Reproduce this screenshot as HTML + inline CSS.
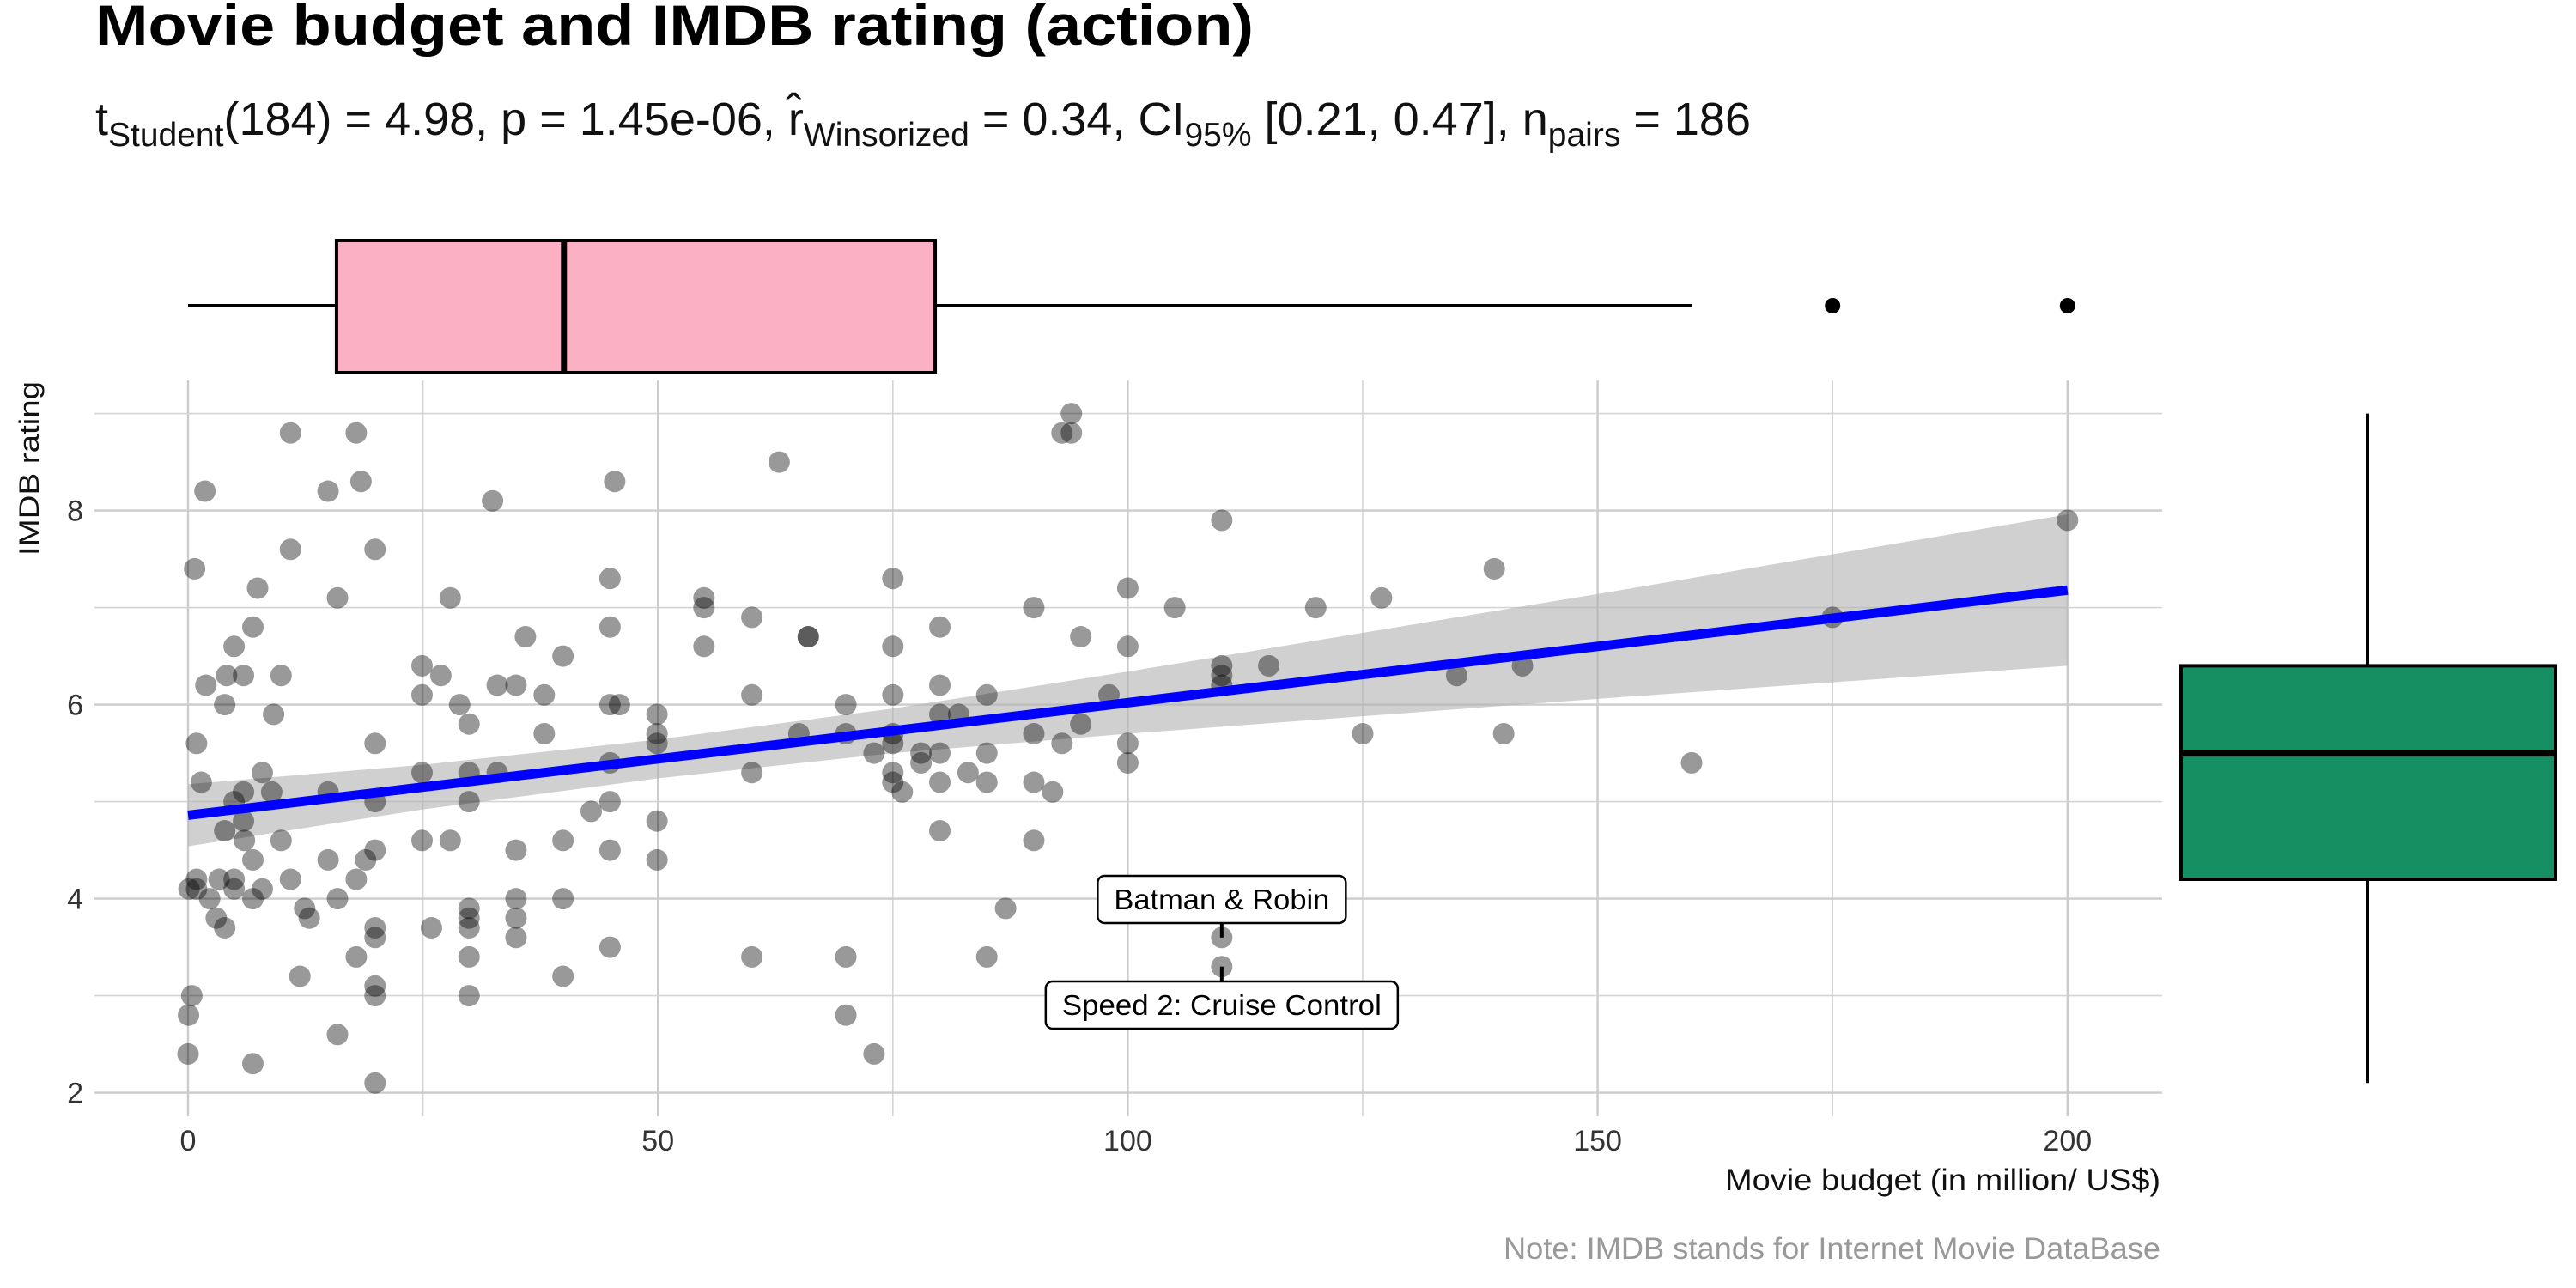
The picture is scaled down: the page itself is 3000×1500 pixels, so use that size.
<!DOCTYPE html>
<html><head><meta charset="utf-8"><style>
html,body{margin:0;padding:0;background:#fff;}
svg{display:block;font-family:"Liberation Sans",sans-serif;}
</style></head><body>
<svg id="chart" width="3000" height="1500" viewBox="0 0 3000 1500" xmlns="http://www.w3.org/2000/svg">
<text x="111" y="52" font-size="66" font-weight="bold" textLength="1349" lengthAdjust="spacingAndGlyphs">Movie budget and IMDB rating (action)</text>
<text x="111" y="157" font-size="54" fill="#111">t<tspan font-size="39" dy="13">Student</tspan><tspan dy="-13">(184) = 4.98, p = 1.45e-06, r̂</tspan><tspan font-size="39" dy="13">Winsorized</tspan><tspan dy="-13"> = 0.34, CI</tspan><tspan font-size="39" dy="13">95%</tspan><tspan dy="-13"> [0.21, 0.47], n</tspan><tspan font-size="39" dy="13">pairs</tspan><tspan dy="-13"> = 186</tspan></text>
<g id="grid"></g>
<g id="ribbon"></g>
<g id="points"></g>
<g id="fit"></g>
<g id="labels"></g>
<g id="axes"></g>
<g id="xbox"></g>
<g id="ybox"></g>
<text transform="translate(45,444) rotate(-90)" text-anchor="end" font-size="32" fill="#111" textLength="203" lengthAdjust="spacingAndGlyphs">IMDB rating</text>
<text x="2516" y="1386" text-anchor="end" font-size="35" fill="#111" textLength="507" lengthAdjust="spacingAndGlyphs">Movie budget (in million/ US$)</text>
<text x="2516" y="1466" text-anchor="end" font-size="35" fill="#999" textLength="765" lengthAdjust="spacingAndGlyphs">Note: IMDB stands for Internet Movie DataBase</text>
</svg>
<script>
const budget = [10.9,17.9,1.8,14.9,18.4,32.4,45.4,62.9,10.9,19.9,0.7,7.4,15.9,27.9,44.9,54.9,54.9,60,66,66,6.9,44.9,4.9,54.9,35.9,39.9,24.9,1.9,4.1,5.9,9.9,26.9,32.9,34.9,24.9,37.9,60,3.9,28.9,44.9,45.9,70,9.1,29.9,49.9,0.9,19.9,37.9,49.9,49.9,65,70,1.4,7.9,24.9,29.9,32.9,60,44.9,5.9,8.9,14.9,4.9,19.9,29.9,44.9,5.9,3.9,42.9,49.9,6,9.9,24.9,27.9,39.9,6.9,14.9,18.9,19.9,34.9,44.9,49.9,0.9,3.3,4.9,10.9,17.9,0.1,0.9,4.9,7.9,2.3,6.9,15.9,34.9,39.9,12.4,29.9,3,12.9,29.9,34.9,3.9,19.9,25.9,29.9,19.9,34.9,17.9,29.9,60,70,44.9,11.9,39.9,0.4,19.9,19.9,29.9,0.05,70,15.9,0,6.9,19.9,
94,93,94,110,75,139,100,90,105,120,127,80,75,95,100,110,110,110,115,135,142,75,80,85,98,80,82,90,95,93,100,100,125,140,160,73,75,75,78,78,80,85,75,75,76,80,83,85,90,92,80,90,87,110,110,85,73,200,175];
const rating = [8.8,8.8,8.2,8.2,8.3,8.1,8.3,8.5,7.6,7.6,7.4,7.2,7.1,7.1,7.3,7.1,7.0,6.9,6.7,6.7,6.8,6.8,6.6,6.6,6.7,6.5,6.4,6.2,6.3,6.3,6.3,6.3,6.2,6.2,6.1,6.1,6.1,6.0,6.0,6.0,6.0,6.0,5.9,5.8,5.9,5.6,5.6,5.7,5.7,5.6,5.7,5.7,5.2,5.3,5.3,5.3,5.3,5.3,5.4,5.1,5.1,5.1,5.0,5.0,5.0,5.0,4.8,4.7,4.9,4.8,4.6,4.6,4.6,4.6,4.6,4.4,4.4,4.4,4.5,4.5,4.5,4.4,4.2,4.2,4.2,4.2,4.2,4.1,4.1,4.1,4.1,4.0,4.0,4.0,4.0,4.0,3.9,3.9,3.8,3.8,3.8,3.8,3.7,3.7,3.7,3.7,3.6,3.6,3.4,3.4,3.4,3.4,3.5,3.2,3.2,3.0,3.1,3.0,3.0,2.8,2.8,2.6,2.4,2.3,2.1,
9.0,8.8,8.8,7.9,7.3,7.4,7.2,7.0,7.0,7.0,7.1,6.8,6.6,6.7,6.6,6.4,6.3,6.2,6.4,6.3,6.4,6.1,6.2,6.1,6.1,5.9,5.9,5.7,5.8,5.6,5.6,5.4,5.7,5.7,5.4,5.5,5.7,5.6,5.5,5.4,5.5,5.5,5.3,5.2,5.1,5.2,5.3,5.2,5.2,5.1,4.7,4.6,3.9,3.6,3.3,3.4,2.4,7.9,6.9];
const fitX = [0,200];
const fitY = [4.86,7.18];
const bandX = [0,25,50,75,100,125,150,175,200];
const bandLo = [4.54,4.92,5.24,5.50,5.70,5.88,6.06,6.23,6.40];
const bandHi = [5.18,5.38,5.64,5.96,6.34,6.74,7.14,7.55,7.96];
const xTicks = [0,50,100,150,200];
const xMinor = [25,75,125,175];
const yTicks = [2,4,6,8];
const yMinor = [3,5,7,9];
const xBoxStats = [0,15.8,40,79.5,160];
const xOutliers = [175,200];
const yBoxStats = [2.1,4.2,5.5,6.4,9.0];
const labelNames = ["Batman & Robin","Speed 2: Cruise Control"];
const labelX = [110,110];
const labelY = [3.6,3.3];

const NS="http://www.w3.org/2000/svg";
const xs = v => 219 + v*10.944;
const ys = v => 594.6 - (v-8)*113;
function mk(tag, attrs, parent){const e=document.createElementNS(NS,tag);for(const k in attrs)e.setAttribute(k,attrs[k]);parent.appendChild(e);return e;}
const grid=document.getElementById('grid');
xMinor.forEach(v=>{const l=mk('line',{x1:xs(v),x2:xs(v),y1:443,y2:1300,stroke:'#d4d4d4','stroke-width':1.6},grid);

});
xTicks.forEach(v=>{const l=mk('line',{x1:xs(v),x2:xs(v),y1:443,y2:1300,stroke:'#cccccc','stroke-width':2.4},grid);

});
yMinor.forEach(v=>{const l=mk('line',{x1:110,x2:2518,y1:ys(v),y2:ys(v),stroke:'#d4d4d4','stroke-width':1.6},grid);

});
yTicks.forEach(v=>{const l=mk('line',{x1:110,x2:2518,y1:ys(v),y2:ys(v),stroke:'#cccccc','stroke-width':2.4},grid);

});
const axes=document.getElementById('axes');
xTicks.forEach(v=>{const t=mk('text',{x:xs(v),y:1340,'text-anchor':'middle','font-size':34,fill:'#333'},axes);t.textContent=v;

});
yTicks.forEach(v=>{const t=mk('text',{x:97,y:ys(v)+12,'text-anchor':'end','font-size':34,fill:'#333'},axes);t.textContent=v;

});
let d='M'+bandX.map((v,i)=>xs(v)+','+ys(bandHi[i])).join(' L');
for(let i=bandX.length-1;i>=0;i--) d+=' L'+xs(bandX[i])+','+ys(bandLo[i]);
const rb=mk('path',{d:d+'Z',fill:'#b0b0b0','fill-opacity':0.6},document.getElementById('ribbon'));


const pg=document.getElementById('points');
budget.forEach((b,i)=>{const c=mk('circle',{cx:xs(b),cy:ys(rating[i]),r:12.5,fill:'#000','fill-opacity':0.4},pg);

});
const fl=mk('line',{x1:xs(fitX[0]),y1:ys(fitY[0]),x2:xs(fitX[1]),y2:ys(fitY[1]),stroke:'#0000ff','stroke-width':11},document.getElementById('fit'));


const lg=document.getElementById('labels');
const boxes=[{y:1020,w:289},{y:1143,w:410}];
labelNames.forEach((n,i)=>{const cx=xs(labelX[i]);const py=ys(labelY[i]);const b=boxes[i];
const by2 = i===0? b.y+55 : b.y;
const sg=mk('line',{x1:cx,x2:cx,y1:by2,y2:py,stroke:'#000','stroke-width':4},lg);


const r=mk('rect',{x:cx-b.w/2,y:b.y,width:b.w,height:55,rx:8,fill:'#fff',stroke:'#000','stroke-width':2.5},lg);


const t=mk('text',{x:cx,y:b.y+39,'text-anchor':'middle','font-size':33,fill:'#000',textLength:b.w-38,lengthAdjust:'spacingAndGlyphs'},lg);t.textContent=n;

});
const xb=document.getElementById('xbox');
const w1=mk('line',{x1:xs(xBoxStats[0]),x2:xs(xBoxStats[1]),y1:356,y2:356,stroke:'#000','stroke-width':4},xb);


const w2=mk('line',{x1:xs(xBoxStats[3]),x2:xs(xBoxStats[4]),y1:356,y2:356,stroke:'#000','stroke-width':4},xb);


const r1=mk('rect',{x:xs(xBoxStats[1]),y:280,width:xs(xBoxStats[3])-xs(xBoxStats[1]),height:154,fill:'#fbb1c3',stroke:'#000','stroke-width':4},xb);


const m1=mk('line',{x1:xs(xBoxStats[2]),x2:xs(xBoxStats[2]),y1:280,y2:434,stroke:'#000','stroke-width':7},xb);


xOutliers.forEach(v=>{const c=mk('circle',{cx:xs(v),cy:356,r:9,fill:'#000'},xb);

});
const yb=document.getElementById('ybox');
const cxb=2757;
const w3=mk('line',{x1:cxb,x2:cxb,y1:ys(yBoxStats[0]),y2:ys(yBoxStats[1]),stroke:'#000','stroke-width':4},yb);


const w4=mk('line',{x1:cxb,x2:cxb,y1:ys(yBoxStats[3]),y2:ys(yBoxStats[4]),stroke:'#000','stroke-width':4},yb);


const r2=mk('rect',{x:2540,y:ys(yBoxStats[3]),width:436,height:ys(yBoxStats[1])-ys(yBoxStats[3]),fill:'#168f63',stroke:'#000','stroke-width':4},yb);


const m2=mk('line',{x1:2540,x2:2976,y1:ys(yBoxStats[2]),y2:ys(yBoxStats[2]),stroke:'#000','stroke-width':8},yb);


</script>
</body></html>
